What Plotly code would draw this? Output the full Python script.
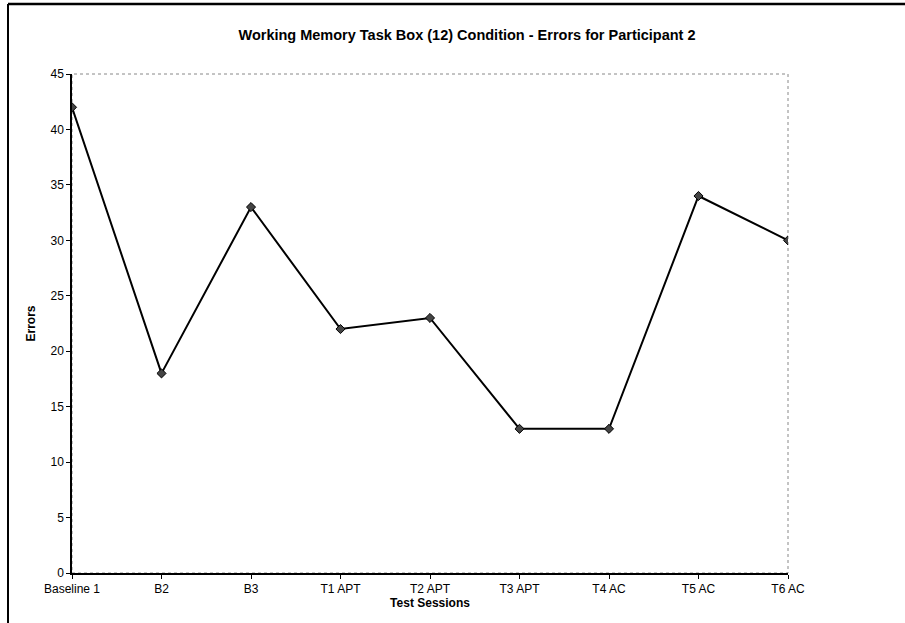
import plotly.graph_objects as go

SESSIONS = ["Baseline 1", "B2", "B3", "T1 APT", "T2 APT", "T3 APT", "T4 AC", "T5 AC", "T6 AC"]
ERRORS = [42, 18, 33, 22, 23, 13, 13, 34, 30]
Y_TICKS = list(range(0, 50, 5))

FONT = "Liberation Sans, Arial, sans-serif"
W, H = 905, 623
L, R, T, B = 72, 117, 74, 50
PW, PH = W - L - R, H - T - B

fig = go.Figure()
fig.add_trace(go.Scatter(
    x=SESSIONS, y=ERRORS, mode="lines+markers",
    line=dict(color="black", width=2),
    marker=dict(symbol="diamond", size=7, color="#444444", line=dict(color="black", width=1)),
    showlegend=False,
))

# outer chart frame, left and top edges (pixel positions turned into paper units)
frame_x = (8 - L) / PW
frame_y = (H - 4 - B) / PH

fig.update_layout(
    width=W, height=H,
    margin=dict(l=L, r=R, t=T, b=B),
    paper_bgcolor="white", plot_bgcolor="white",
    font=dict(family=FONT, size=12, color="black"),
    title=dict(
        text="<b>Working Memory Task Box (12) Condition - Errors for Participant 2</b>",
        font=dict(size=14.5, color="black"),
        x=467 / W, xanchor="center", y=1 - 35 / H, yanchor="middle",
    ),
    shapes=[
        dict(type="rect", xref="x domain", yref="y domain", x0=0, x1=1, y0=0, y1=1,
             line=dict(color="#888888", width=1, dash="dot"), layer="below"),
        dict(type="line", xref="paper", yref="paper",
             x0=frame_x, x1=frame_x, y0=-1, y1=frame_y,
             line=dict(color="black", width=2)),
        dict(type="line", xref="paper", yref="paper",
             x0=frame_x, x1=2, y0=frame_y, y1=frame_y,
             line=dict(color="black", width=2.5)),
    ],
)

fig.update_xaxes(
    type="category", range=[0, len(SESSIONS) - 1],
    showline=True, linecolor="black", linewidth=1.5,
    ticks="outside", ticklen=4, tickcolor="black",
    showgrid=False, zeroline=False,
    tickfont=dict(size=12),
    title=dict(text="<b>Test Sessions</b>", font=dict(size=12), standoff=3),
)
fig.update_yaxes(
    range=[0, 45], tickvals=Y_TICKS,
    showline=True, linecolor="black", linewidth=1.5,
    ticks="outside", ticklen=4, tickcolor="black",
    showgrid=False, zeroline=False,
    tickfont=dict(size=12),
    title=dict(text="<b>Errors</b>", font=dict(size=12), standoff=12),
)

# drop the page's default body margin so the chart sits at the window origin
fig.write_html("out.html", config={"displayModeBar": False},
               post_script="document.body.style.margin='0';")
